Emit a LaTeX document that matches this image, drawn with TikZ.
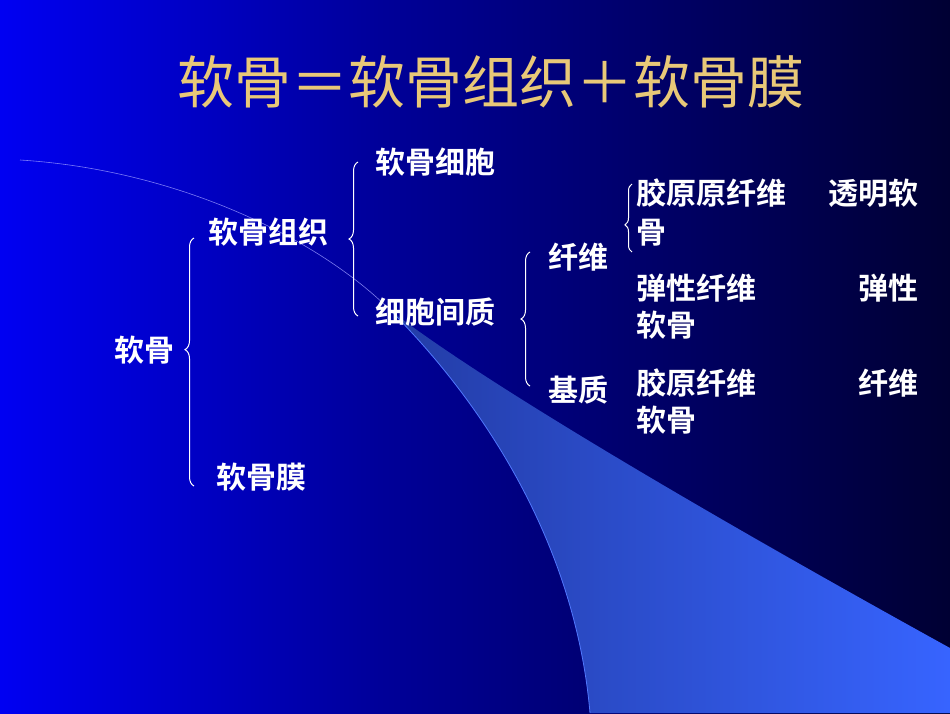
\documentclass[tikz,border=0pt]{standalone}
\usepackage{fontspec}
\newfontfamily\cjk{Noto Sans CJK SC}
\newfontfamily\cjkb{Noto Sans CJK SC Bold}
\usetikzlibrary{decorations.pathreplacing}
\pgfdeclarehorizontalshading{bgshade}{100bp}{rgb(0bp)=(0,0,0.95); rgb(25bp)=(0,0,0.95); rgb(45bp)=(0,0,0.6); rgb(60bp)=(0,0,0.4); rgb(75bp)=(0,0,0.2); rgb(85bp)=(0,0,0.02); rgb(100bp)=(0,0,0)}
\definecolor{gold}{RGB}{232,200,120}
\definecolor{edgeblue}{RGB}{80,120,255}
\begin{document}
\begin{tikzpicture}[x=1pt,y=-1pt,
  lbl/.style={text=white,font=\cjkb\fontsize{30}{33}\selectfont,anchor=base west,inner sep=0pt},
  br/.style={draw=white,line width=1pt,decorate,decoration={brace,amplitude=9pt}}]
\useasboundingbox (0,0) rectangle (950,713);
\shade[shading=bgshade] (0,0) rectangle (950,713);
\draw[white!60!blue,line width=0.6pt,opacity=0.8] (20,160) .. controls (180,170) and (320,240) .. (390,310);
\shade[left color={rgb,255:red,35;green,60;blue,165},right color={rgb,255:red,55;green,100;blue,255}]
  (390,310) .. controls (480,380) and (700,510) .. (950,648) -- (950,713) -- (590,713)
  .. controls (575,540) and (480,400) .. (390,310) -- cycle;
\draw[edgeblue,line width=0.8pt] (590,713) .. controls (575,540) and (480,400) .. (390,310);
\node[text=gold,font=\cjk\fontsize{57}{60}\selectfont] (title) at (491,82) {软骨＝软骨组织＋软骨膜};
\node[lbl] (rg) at (114,361) {软骨};
\node[lbl] (rgzz) at (208,243) {软骨组织};
\node[lbl] (rgm) at (216,488) {软骨膜};
\node[lbl] (rgxb) at (375,173) {软骨细胞};
\node[lbl] (xbjz) at (375,323) {细胞间质};
\node[lbl] (xw) at (548,268) {纤维};
\node[lbl] (jz) at (548,401) {基质};
\node[lbl] (a1) at (636,204) {胶原原纤维};
\node[lbl,anchor=base east] (a2) at (919,204) {透明软};
\node[lbl] (a3) at (636,243) {骨};
\node[lbl] (b1) at (636,299) {弹性纤维};
\node[lbl,anchor=base east] (b2) at (919,299) {弹性};
\node[lbl] (b3) at (636,336) {软骨};
\node[lbl] (c1) at (636,394) {胶原纤维};
\node[lbl,anchor=base east] (c2) at (919,394) {纤维};
\node[lbl] (c3) at (636,431) {软骨};
\coordinate (b1t) at (194,238); \coordinate (b1b) at (194,486);
\coordinate (b2t) at (358,162); \coordinate (b2b) at (358,316);
\coordinate (b3t) at (530,252); \coordinate (b3b) at (530,386);
\coordinate (b4t) at (632,184); \coordinate (b4b) at (632,252);
\draw[br,decoration={aspect=0.55}] (b1b) -- (b1t);
\draw[br,decoration={aspect=0.5}] (b2b) -- (b2t);
\draw[br,decoration={aspect=0.5}] (b3b) -- (b3t);
\draw[br,decoration={aspect=0.4,amplitude=7pt}] (b4b) -- (b4t);
\end{tikzpicture}
\end{document}
